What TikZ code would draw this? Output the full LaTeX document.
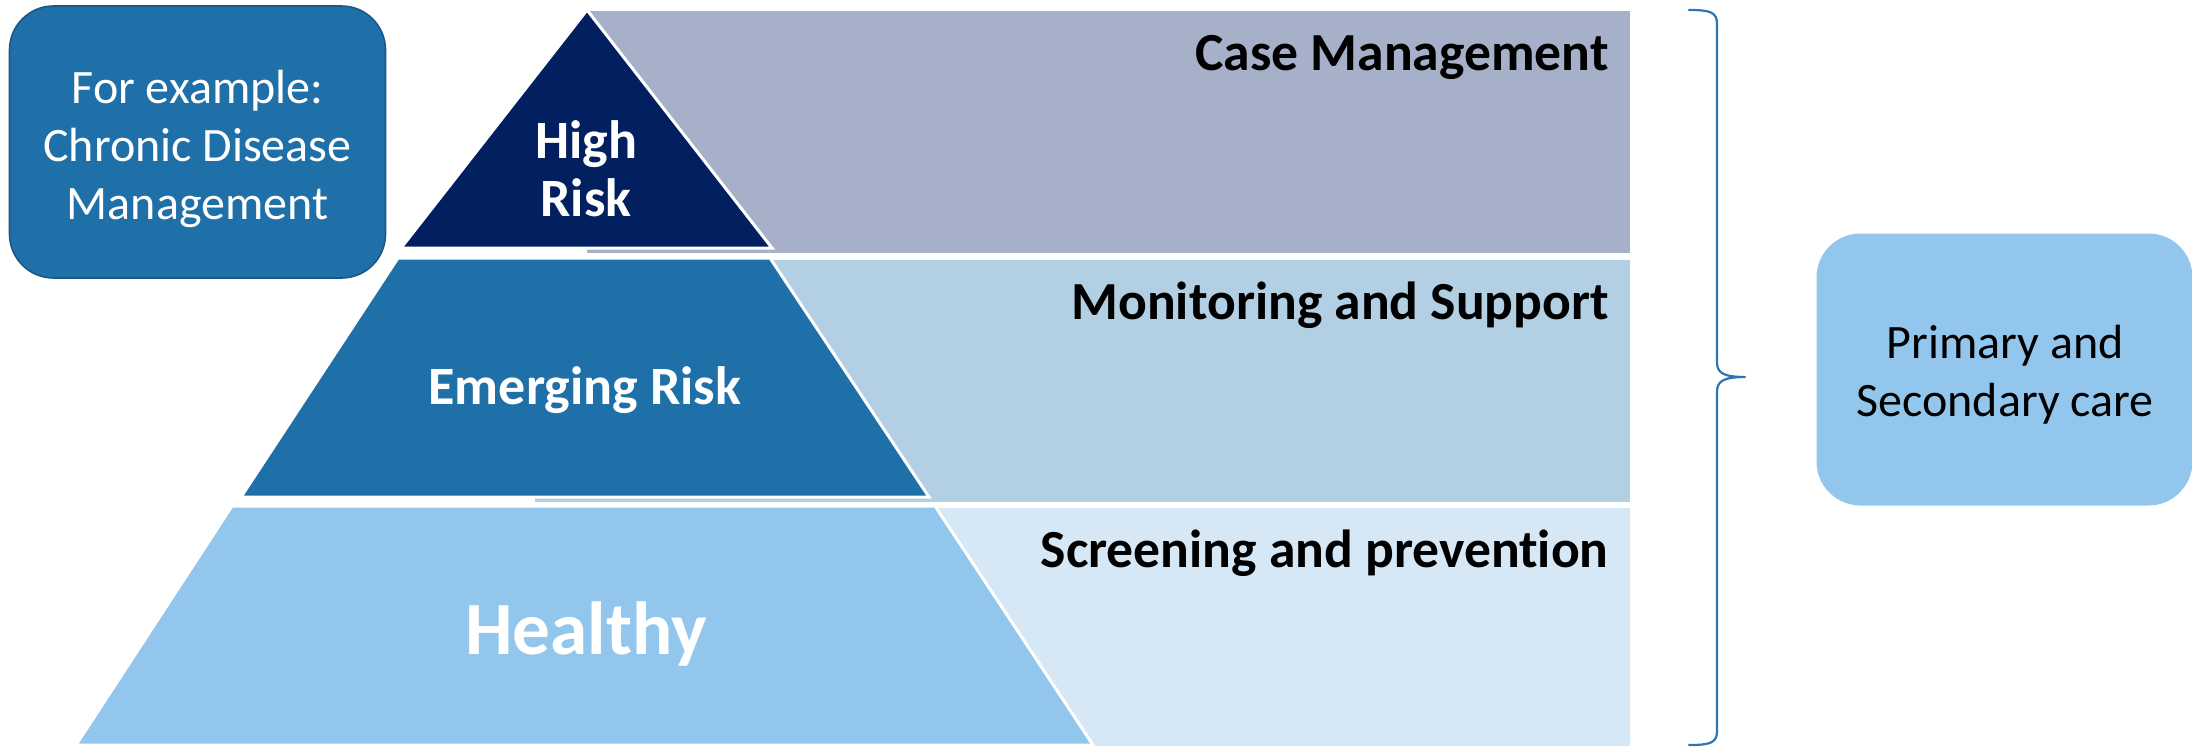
\documentclass[tikz,border=0pt]{standalone}
\usepackage{fontspec}
\setmainfont{Carlito}[Ligatures=CommonOff]
\definecolor{navy}{HTML}{022060}
\definecolor{midblue}{HTML}{1F6FA8}
\definecolor{skyblue}{HTML}{93C6EC}
\definecolor{caseband}{HTML}{A6B0C9}
\definecolor{monband}{HTML}{B3CFE3}
\definecolor{scrband}{HTML}{D6E8F6}
\definecolor{boxedge}{HTML}{1A5888}
\definecolor{bracecol}{HTML}{2E75B6}
\tikzset{
  tier/.style={draw=white, line width=1.5pt, line join=miter},
  sidebox/.style={rounded corners=22pt, minimum width=188pt, minimum height=136pt,
    inner sep=0pt},
  boxtext/.style={inner sep=0pt, align=center, font=\fontsize{24}{29}\selectfont},
  tierlabel/.style={text=white, inner sep=0pt, align=center,
    font=\bfseries\fontsize{27}{29}\selectfont},
  bandlabel/.style={text=black, inner sep=0pt, anchor=base east,
    font=\bfseries\fontsize{26.8}{31}\selectfont},
  bracket/.style={draw=bracecol, line width=1.1pt, line cap=round, line join=round}
}
\begin{document}
\begin{tikzpicture}[x=0.5pt, y=-0.5pt]
\useasboundingbox (0,0) rectangle (2192,746);

% bands behind the pyramid
\fill[caseband] (587,11) rectangle (1630,253);
\fill[monband] (535,260) rectangle (1630,502);
\fill[scrband] (500,508) rectangle (1630,746);

% pyramid tiers
\filldraw[tier, fill=navy] (587,10) -- (772,248) -- (401,248) -- cycle;
\filldraw[tier, fill=midblue] (398,258) -- (770,258) -- (929,497) -- (241,497) -- cycle;
\filldraw[tier, fill=skyblue] (232,506) -- (935,506) -- (1093,745) -- (76,745) -- cycle;

% tier labels
\node[tierlabel] (high) at (586,169) {High\\Risk};
\node[tierlabel, anchor=base] (emerging) at (585,404) {Emerging Risk};
\node[tierlabel, anchor=base, font=\bfseries\fontsize{37.6}{40}\selectfont] (healthy) at (586,654) {Healthy};

% band labels
\node[bandlabel] (case) at (1609,70) {Case Management};
\node[bandlabel] (monitor) at (1609,319) {Monitoring and Support};
\node[bandlabel] (screen) at (1609,567) {Screening and prevention};

% side boxes
\node[sidebox, fill=midblue, draw=boxedge, line width=0.8pt] (example) at (197.5,142) {};
\node[boxtext, text=white] (exampletext) at (197.5,149)
  {For example:\\Chronic Disease\\Management};
\node[sidebox, fill=skyblue] (care) at (2004.5,369.5) {};
\node[boxtext, text=black] (caretext) at (2005,374.5)
  {Primary and\\Secondary care};

% brace grouping the three bands
\coordinate (btop) at (1689,10);
\coordinate (bbot) at (1689,745);
\coordinate (btip) at (1745,377);
\draw[bracket] (btop) .. controls (1710,10) and (1717,12) .. (1717,24)
  -- (1717,362) .. controls (1717,372) and (1722,377) .. (btip)
  (btip) .. controls (1722,377) and (1717,382) .. (1717,392)
  -- (1717,731) .. controls (1717,743) and (1710,745) .. (bbot);
\end{tikzpicture}
\end{document}
